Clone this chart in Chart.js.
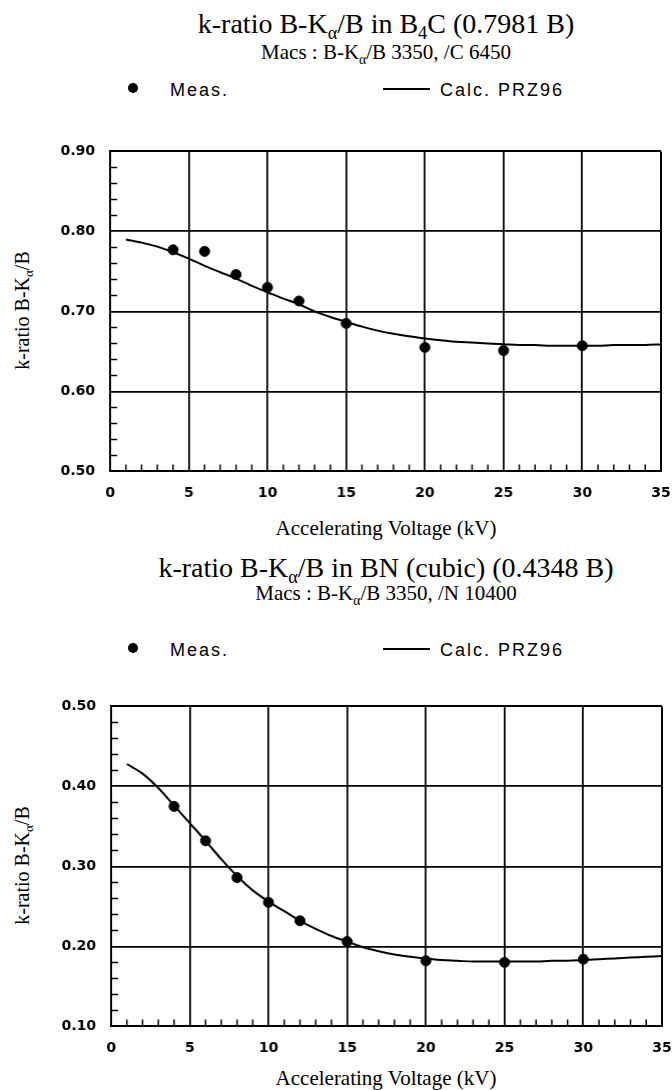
<!DOCTYPE html>
<html>
<head>
<meta charset="utf-8">
<script src="https://cdn.jsdelivr.net/npm/chart.js@4.4.1/dist/chart.umd.min.js"></script>
<style>
  body { margin: 0; background: #fff; }
  #page { position: relative; width: 672px; height: 1090px; overflow: hidden; color: #000; }
  .t { position: absolute; white-space: nowrap; line-height: normal; }
  .title { font-family: "Liberation Serif", "Times New Roman", serif; font-size: 28px; left: 0; width: 772px; text-align: center; }
  .sub { font-family: "Liberation Serif", "Times New Roman", serif; font-size: 21px; left: 0; width: 772px; text-align: center; }
  .leg { font-family: "Liberation Sans", Arial, sans-serif; font-size: 18px; letter-spacing: 2px; }
  .xt { font-family: "Liberation Serif", "Times New Roman", serif; font-size: 21px; left: 0; width: 772px; text-align: center; }
  .yt { font-family: "Liberation Serif", "Times New Roman", serif; font-size: 20px; width: 200px; text-align: center; transform: rotate(-90deg); }
  sub { font-size: 65%; vertical-align: -0.35em; line-height: 0; }
  .dot { position: absolute; width: 10px; height: 10px; border-radius: 50%; background: #000; }
  .ln { position: absolute; width: 47px; height: 2px; background: #000; }
  canvas { position: absolute; left: 0; }
</style>
</head>
<body>
<div id="page">
  <div class="t title" style="top:8px">k-ratio B-K<sub>α</sub>/B in B<sub>4</sub>C (0.7981 B)</div>
  <div class="t sub" style="top:40px">Macs : B-K<sub>α</sub>/B 3350, /C 6450</div>
  <div class="dot" style="left:128px; top:83px"></div>
  <div class="t leg" style="left:170px; top:80px">Meas.</div>
  <div class="ln" style="left:383px; top:88px"></div>
  <div class="t leg" style="left:440px; top:80px">Calc. PRZ96</div>
  <div class="t yt" style="left:-78px; top:299px">k-ratio B-K<sub>α</sub>/B</div>
  <div class="t xt" style="top:516px">Accelerating Voltage (kV)</div>
  <canvas id="chartB4C" width="672" height="370"></canvas>

  <div class="t title" style="top:552px">k-ratio B-K<sub>α</sub>/B in BN (cubic) (0.4348 B)</div>
  <div class="t sub" style="top:581px">Macs : B-K<sub>α</sub>/B 3350, /N 10400</div>
  <div class="dot" style="left:128px; top:643px"></div>
  <div class="t leg" style="left:170px; top:640px">Meas.</div>
  <div class="ln" style="left:383px; top:648px"></div>
  <div class="t leg" style="left:440px; top:640px">Calc. PRZ96</div>
  <div class="t yt" style="left:-78px; top:854px">k-ratio B-K<sub>α</sub>/B</div>
  <div class="t xt" style="top:1066px">Accelerating Voltage (kV)</div>
  <canvas id="chartBN" width="672" height="370"></canvas>
</div>
<script>
'use strict';

// measured points
var measKv = [4, 6, 8, 10, 12, 15, 20, 25, 30];
var measB4C = [0.777, 0.775, 0.746, 0.730, 0.713, 0.685, 0.655, 0.651, 0.657];
var measBN = [0.375, 0.332, 0.286, 0.255, 0.232, 0.206, 0.182, 0.180, 0.184];

// calculated PRZ96 curves, read at 1 kV steps
var calcKv = [1, 2, 3, 4, 5, 6, 7, 8, 9, 10, 11, 12, 13, 14, 15, 16, 17, 18,
  19, 20, 21, 22, 23, 24, 25, 26, 27, 28, 29, 30, 31, 32, 33, 34, 35];
var calcB4C = [0.790, 0.786, 0.781, 0.774, 0.766, 0.757, 0.749, 0.741, 0.732, 0.724,
  0.716, 0.709, 0.700, 0.693, 0.687, 0.681, 0.676, 0.672, 0.669, 0.666,
  0.664, 0.662, 0.661, 0.660, 0.659, 0.658, 0.658, 0.657, 0.657, 0.657,
  0.657, 0.658, 0.658, 0.658, 0.659];
var calcBN = [0.428, 0.416, 0.398, 0.376, 0.354, 0.332, 0.309, 0.288, 0.270, 0.256,
  0.244, 0.232, 0.222, 0.213, 0.206, 0.199, 0.194, 0.190, 0.187, 0.185,
  0.183, 0.182, 0.181, 0.181, 0.181, 0.181, 0.181, 0.182, 0.182, 0.183,
  0.184, 0.185, 0.186, 0.187, 0.188];

var tickFont = { family: '"DejaVu Sans", sans-serif', size: 14, weight: 'bold' };

function pairs(xs, ys) {
  return xs.map(function (x, i) { return { x: x, y: ys[i] }; });
}

// minor ticks pointing into the plot
var minorTicks = {
  id: 'minorTicks',
  afterDraw: function (chart) {
    var ctx = chart.ctx, xs = chart.scales.x, ys = chart.scales.y, a = chart.chartArea;
    ctx.save();
    ctx.strokeStyle = '#000';
    ctx.lineWidth = 1.5;
    ctx.beginPath();
    for (var v = xs.min + 1; v < xs.max; v++) {
      if (v % 5 === 0) continue;
      var px = xs.getPixelForValue(v);
      ctx.moveTo(px, a.bottom);
      ctx.lineTo(px, a.bottom - 7);
    }
    for (var k = 1; k < Math.round((ys.max - ys.min) / 0.02); k++) {
      if (k % 5 === 0) continue;
      var py = ys.getPixelForValue(ys.min + k * 0.02);
      ctx.moveTo(a.left, py);
      ctx.lineTo(a.left + 7, py);
    }
    ctx.stroke();
    ctx.restore();
  }
};

// box = where the plot area sits on the page: left, top, right, bottom
function makeChart(id, meas, calc, yMin, yMax, box) {
  var edge = function (c) {
    var s = c.scale;
    return (Math.abs(c.tick.value - s.min) < 1e-6 || Math.abs(c.tick.value - s.max) < 1e-6) ? 2 : 1.8;
  };
  var canvas = document.getElementById(id);
  var chart = new Chart(canvas.getContext('2d'), {
    data: {
      datasets: [{
        type: 'scatter',
        label: 'Meas.',
        data: pairs(measKv, meas),
        pointRadius: 5,
        pointBackgroundColor: '#000',
        pointBorderColor: '#000',
        order: 0
      }, {
        type: 'line',
        label: 'Calc. PRZ96',
        data: pairs(calcKv, calc),
        borderColor: '#000',
        borderWidth: 2,
        pointRadius: 0,
        fill: false,
        cubicInterpolationMode: 'monotone',
        order: 1
      }]
    },
    options: {
      responsive: false,
      maintainAspectRatio: false,
      animation: false,
      layout: { padding: 0 },
      plugins: { legend: { display: false }, tooltip: { enabled: false } },
      scales: {
        x: {
          type: 'linear', min: 0, max: 35,
          afterFit: function (s) { s.height = 40; },
          ticks: { stepSize: 5, color: '#000', font: tickFont, padding: 14 },
          grid: { color: '#000', lineWidth: edge, drawTicks: false },
          border: { color: '#000', width: 2 }
        },
        y: {
          type: 'linear', min: yMin, max: yMax,
          afterFit: function (s) { s.width = 80; },
          ticks: {
            stepSize: 0.1, color: '#000', font: tickFont, padding: 15,
            callback: function (v) { return v.toFixed(2); }
          },
          grid: { color: '#000', lineWidth: edge, drawTicks: false },
          border: { color: '#000', width: 2 }
        }
      }
    },
    plugins: [minorTicks]
  });
  // size the canvas so the plot area matches, then place it
  var a = chart.chartArea;
  var w = canvas.width + (box[2] - box[0]) - (a.right - a.left);
  var h = canvas.height + (box[3] - box[1]) - (a.bottom - a.top);
  chart.resize(w, h);
  a = chart.chartArea;
  canvas.style.left = (box[0] - a.left) + 'px';
  canvas.style.top = (box[1] - a.top) + 'px';
  return chart;
}

makeChart('chartB4C', measB4C, calcB4C, 0.5, 0.9, [110, 151, 660, 471]);
makeChart('chartBN', measBN, calcBN, 0.1, 0.5, [111, 706, 661, 1026]);
</script>
</body>
</html>
